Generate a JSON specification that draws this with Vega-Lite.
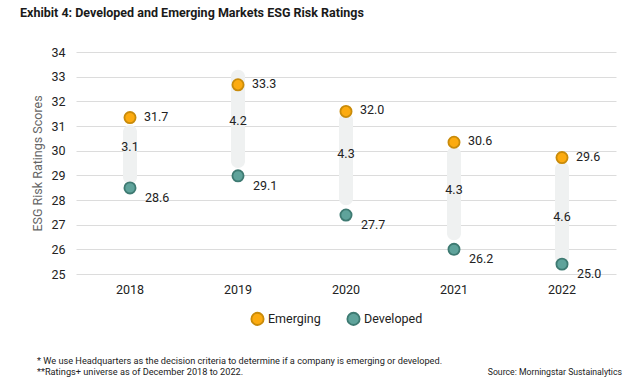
{
  "$schema": "https://vega.github.io/schema/vega-lite/v6.json",
  "padding": {"left": 20, "top": 6, "right": 5, "bottom": 5},
  "background": "white",
  "datasets": {
    "points": [
      {"year": "2018", "market": "Emerging", "plotted": 31.34, "score": 31.7},
      {"year": "2019", "market": "Emerging", "plotted": 32.67, "score": 33.3},
      {"year": "2020", "market": "Emerging", "plotted": 31.59, "score": 32.0},
      {"year": "2021", "market": "Emerging", "plotted": 30.34, "score": 30.6},
      {"year": "2022", "market": "Emerging", "plotted": 29.72, "score": 29.6},
      {"year": "2018", "market": "Developed", "plotted": 28.49, "score": 28.6},
      {"year": "2019", "market": "Developed", "plotted": 28.98, "score": 29.1},
      {"year": "2020", "market": "Developed", "plotted": 27.39, "score": 27.7},
      {"year": "2021", "market": "Developed", "plotted": 26.0, "score": 26.2},
      {"year": "2022", "market": "Developed", "plotted": 25.4, "score": 25.0}
    ],
    "gaps": [
      {"year": "2018", "top": 31.04, "bottom": 28.65, "mid": 30.15, "gap": 3.1},
      {"year": "2019", "top": 33.28, "bottom": 29.3, "mid": 31.2, "gap": 4.2},
      {"year": "2020", "top": 31.53, "bottom": 27.79, "mid": 29.85, "gap": 4.3},
      {"year": "2021", "top": 30.15, "bottom": 26.37, "mid": 28.4, "gap": 4.3},
      {"year": "2022", "top": 29.54, "bottom": 25.43, "mid": 27.3, "gap": 4.6}
    ],
    "footer": [
      {"line": 1, "side": "left", "text": "* We use Headquarters as the decision criteria to determine if a company is emerging or developed."},
      {"line": 2, "side": "left", "text": "**Ratings+ universe as of December 2018 to 2022."},
      {"line": 2, "side": "right", "text": "Source: Morningstar Sustainalytics"}
    ]
  },
  "vconcat": [
    {
      "width": 540,
      "height": 222,
      "title": {
        "text": "Exhibit 4: Developed and Emerging Markets ESG Risk Ratings",
        "anchor": "start",
        "frame": "group",
        "dx": -56,
        "offset": 27,
        "font": "Roboto",
        "fontSize": 12.5,
        "fontWeight": "bold",
        "color": "#1a1a1a"
      },
      "data": {"name": "points"},
      "encoding": {
        "x": {
          "field": "year",
          "type": "ordinal",
          "scale": {"type": "band", "paddingInner": 0, "paddingOuter": 0},
          "axis": {"title": null, "labelAngle": 0, "domain": false, "ticks": false, "labelPadding": 9, "labelFontSize": 12.5, "labelColor": "#222", "labelFont": "Roboto"}
        }
      },
      "layer": [
        {
          "data": {"name": "gaps"},
          "mark": {"type": "bar", "width": 14, "cornerRadius": 7, "color": "#eff1f1"},
          "encoding": {
            "y": {
              "field": "top",
              "type": "quantitative",
              "scale": {"domain": [25, 34], "nice": false, "zero": false},
              "axis": {
                "title": "ESG Risk Ratings Scores",
                "tickCount": 10,
                "labelOverlap": false,
                "grid": true,
                "gridColor": "#dcdcdc",
                "gridWidth": 1,
                "domain": false,
                "ticks": false,
                "labelPadding": 11,
                "labelFontSize": 12.5,
                "labelColor": "#222",
                "labelFont": "Roboto",
                "titleFont": "Roboto",
                "titleFontSize": 12.5,
                "titleFontWeight": "normal",
                "titleColor": "#666",
                "titlePadding": 6
              }
            },
            "y2": {"field": "bottom"}
          }
        },
        {
          "data": {"name": "gaps"},
          "mark": {"type": "text", "font": "Roboto", "fontSize": 12.5, "color": "#222"},
          "encoding": {
            "y": {"field": "mid", "type": "quantitative"},
            "text": {"field": "gap", "type": "quantitative", "format": ".1f"}
          }
        },
        {
          "mark": {"type": "point", "filled": true, "size": 125, "strokeWidth": 1.8, "opacity": 1},
          "encoding": {
            "y": {"field": "plotted", "type": "quantitative"},
            "fill": {
              "field": "market",
              "type": "nominal",
              "scale": {"domain": ["Emerging", "Developed"], "range": ["#fcab10", "#5fa39b"]},
              "legend": {"title": null, "orient": "none", "legendX": 174, "legendY": 259}
            },
            "stroke": {
              "field": "market",
              "type": "nominal",
              "scale": {"domain": ["Emerging", "Developed"], "range": ["#c98b0a", "#3e7a72"]},
              "legend": {"title": null, "orient": "none", "legendX": 174, "legendY": 259}
            }
          }
        },
        {
          "transform": [{"filter": "datum.market === 'Emerging'"}],
          "mark": {"type": "text", "align": "left", "dx": 14, "dy": -1, "font": "Roboto", "fontSize": 12.5, "color": "#222"},
          "encoding": {
            "y": {"field": "plotted", "type": "quantitative"},
            "text": {"field": "score", "type": "quantitative", "format": ".1f"}
          }
        },
        {
          "transform": [{"filter": "datum.market === 'Developed'"}],
          "mark": {"type": "text", "align": "left", "dx": 15, "dy": 10, "font": "Roboto", "fontSize": 12.5, "color": "#222"},
          "encoding": {
            "y": {"field": "plotted", "type": "quantitative"},
            "text": {"field": "score", "type": "quantitative", "format": ".1f"}
          }
        }
      ]
    },
    {
      "width": 540,
      "height": 11,
      "data": {"name": "footer"},
      "encoding": {
        "x": {"field": "side", "type": "nominal", "scale": {"type": "point", "domain": ["left", "right"], "padding": 0}, "axis": null},
        "y": {"field": "line", "type": "ordinal", "scale": {"type": "point", "domain": [1, 2], "padding": 0}, "axis": null},
        "text": {"field": "text", "type": "nominal"}
      },
      "layer": [
        {
          "transform": [{"filter": "datum.side === 'left'"}],
          "mark": {"type": "text", "align": "left", "dx": -39, "font": "Roboto", "fontSize": 9.2, "color": "#222"}
        },
        {
          "transform": [{"filter": "datum.side === 'right'"}],
          "mark": {"type": "text", "align": "right", "dx": 6, "font": "Roboto", "fontSize": 8.7, "color": "#222"}
        }
      ]
    }
  ],
  "spacing": 28,
  "resolve": {"legend": {"fill": "independent", "stroke": "independent"}},
  "config": {
    "view": {"stroke": null},
    "font": "Roboto",
    "legend": {
      "direction": "horizontal",
      "symbolType": "circle",
      "symbolSize": 150,
      "symbolStrokeWidth": 1.8,
      "labelFont": "Roboto",
      "labelFontSize": 12.5,
      "labelColor": "#222",
      "columnPadding": 22,
      "labelOffset": 3
    }
  }
}
